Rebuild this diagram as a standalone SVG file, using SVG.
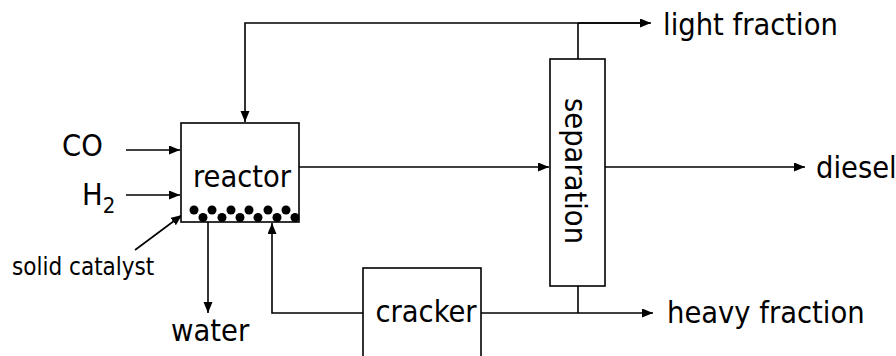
<svg xmlns="http://www.w3.org/2000/svg" width="896" height="356" viewBox="0 0 896 356">
<style>
.box{fill:#fff;stroke:#000;stroke-width:1.6}
.ln{fill:none;stroke:#000;stroke-width:1.6}
.t{font-family:"DejaVu Sans Condensed","DejaVu Sans",sans-serif;font-size:30.5px;fill:#000}
.s{font-family:"DejaVu Sans Condensed","DejaVu Sans",sans-serif;font-size:24px;fill:#000}
.sub{font-size:22px}
</style>
<defs>
<marker id="ah" markerUnits="userSpaceOnUse" markerWidth="12" markerHeight="10" refX="11" refY="4.5" orient="auto">
<path d="M0,0 L11,4.5 L0,9 z" fill="#000"/>
</marker>
</defs>
<g id="connectors">
<path class="ln" d="M126,150 H180" marker-end="url(#ah)"/>
<path class="ln" d="M126,195 H180" marker-end="url(#ah)"/>
<path class="ln" d="M135,250 L182,215" marker-end="url(#ah)"/>
<path class="ln" d="M578,59 V23" />
<path class="ln" d="M650,23 H245 V122" marker-end="url(#ah)"/>
<path class="ln" d="M578,23 H651" marker-end="url(#ah)"/>
<path class="ln" d="M299,167 H549" marker-end="url(#ah)"/>
<path class="ln" d="M605,167 H805" marker-end="url(#ah)"/>
<path class="ln" d="M208,222 V313" marker-end="url(#ah)"/>
<path class="ln" d="M363,313 H272 V223" marker-end="url(#ah)"/>
<path class="ln" d="M481,313 H653" marker-end="url(#ah)"/>
<path class="ln" d="M578,286 V313"/>
</g>
<g id="reactor">
<rect class="box" x="181" y="123" width="118" height="99"/>
<text class="t" x="242" y="187" text-anchor="middle">reactor</text>
<g fill="#000">
<circle cx="194" cy="210" r="4.5"/><circle cx="212" cy="210" r="4.5"/><circle cx="231" cy="210" r="4.5"/>
<circle cx="249" cy="210" r="4.5"/><circle cx="268" cy="210" r="4.5"/><circle cx="286" cy="210" r="4.5"/>
<circle cx="203" cy="217.5" r="4.5"/><circle cx="222" cy="217.5" r="4.5"/><circle cx="240" cy="217.5" r="4.5"/>
<circle cx="258" cy="217.5" r="4.5"/><circle cx="277" cy="217.5" r="4.5"/><circle cx="295" cy="217.5" r="4.5"/>
</g>
</g>
<g id="separation">
<rect class="box" x="550" y="59" width="55" height="227"/>
<text class="t" transform="translate(565,171) rotate(90)" text-anchor="middle">separation</text>
</g>
<g id="cracker">
<rect class="box" x="363" y="268" width="118" height="100"/>
<text class="t" x="426" y="322" text-anchor="middle">cracker</text>
</g>
<g id="labels">
<text class="t" x="62" y="156">CO</text>
<text class="t" x="82" y="205">H<tspan class="sub" dy="8">2</tspan></text>
<text class="s" x="12" y="275">solid catalyst</text>
<text class="t" x="171" y="341">water</text>
<text class="t" x="663" y="35">light fraction</text>
<text class="t" x="816" y="178">diesel</text>
<text class="t" x="667" y="323">heavy fraction</text>
</g>
</svg>
